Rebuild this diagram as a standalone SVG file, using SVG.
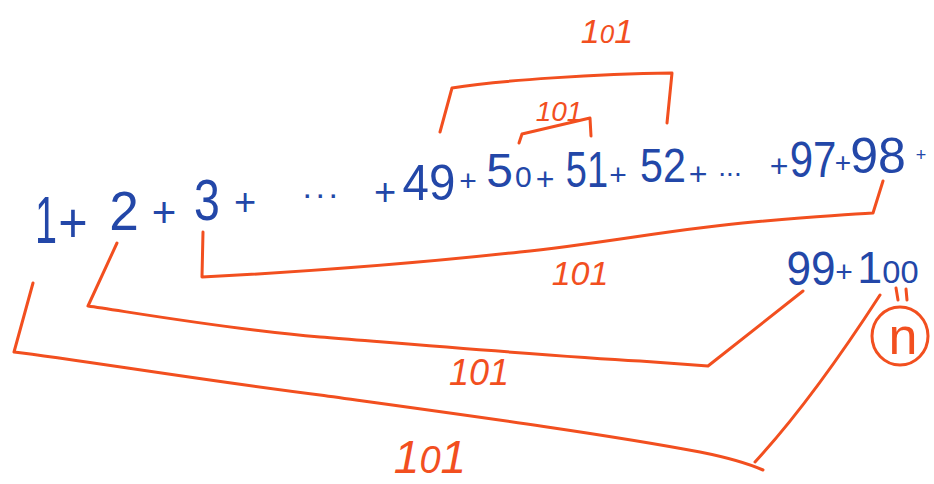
<svg xmlns="http://www.w3.org/2000/svg" width="934" height="484" viewBox="0 0 934 484">
<style>
.blue{fill:#2347a8;font-family:"Liberation Sans",Arial,sans-serif;text-anchor:middle}
.lbl{fill:#f24f1f;font-family:"Liberation Sans",Arial,sans-serif;font-style:italic;text-anchor:middle}
.br{fill:none;stroke:#f24f1f;stroke-width:3;stroke-linecap:round;stroke-linejoin:round}
</style>
<rect width="934" height="484" fill="#ffffff"/>
<g id="sum-row">
<text class="blue" font-size="66" transform="translate(46,243) scale(0.6,1)">1</text>
<text class="blue" font-size="56" transform="translate(73,242) scale(0.9,1)">+</text>
<text class="blue" font-size="56" transform="translate(124,230) scale(0.95,1)">2</text>
<text class="blue" font-size="42" transform="translate(164,227)">+</text>
<text class="blue" font-size="58" transform="translate(207,220) scale(0.8,1)">3</text>
<text class="blue" font-size="38" transform="translate(245,215)">+</text>
<text class="blue" font-size="34" letter-spacing="3.5" transform="translate(322,198)">...</text>
<text class="blue" font-size="38" transform="translate(385,205)">+</text>
<text class="blue" font-size="50" transform="translate(429,200) scale(0.95,1)">49</text>
<text class="blue" font-size="30" transform="translate(468,191)">+</text>
<text class="blue" font-size="48" letter-spacing="2" transform="translate(510,187)">5<tspan font-size="30">0</tspan></text>
<text class="blue" font-size="32" transform="translate(545,190)">+</text>
<text class="blue" font-size="50" transform="translate(587,187) scale(0.76,1)">51</text>
<text class="blue" font-size="30" transform="translate(618,185)">+</text>
<text class="blue" font-size="48" transform="translate(663,182) scale(0.86,1)">52</text>
<text class="blue" font-size="32" transform="translate(698,185)">+</text>
<text class="blue" font-size="28" transform="translate(730,176)">...</text>
<text class="blue" font-size="32" transform="translate(779,177)">+</text>
<text class="blue" font-size="50" transform="translate(813,177) scale(0.84,1)">97</text>
<text class="blue" font-size="28" transform="translate(843,172)">+</text>
<text class="blue" font-size="50" transform="translate(878,173)">98</text>
<text class="blue" font-size="18" transform="translate(921,161)">+</text>
</g>
<g id="tail-row">
<text class="blue" font-size="48" transform="translate(811,285) scale(0.92,1)">99</text>
<text class="blue" font-size="30" transform="translate(844,282)">+</text>
<text class="blue" font-size="44" transform="translate(888,283) scale(1.02,1)">1<tspan font-size="32">00</tspan></text>
</g>
<g id="n-node">
<path class="br" d="M896,288 L898,300 M906,289 L907,300"/>
<ellipse class="br" cx="900" cy="336" rx="28" ry="29"/>
<text x="903" y="354" font-size="52" fill="#f24f1f" font-family="Liberation Sans, Arial, sans-serif" text-anchor="middle">n</text>
</g>
<g id="connectors">
<path class="br" d="M440,132 L452,88 C500,80 600,74 672,73 L667,123"/>
<path class="br" d="M519,143 L522,134 L590,118 L591,136"/>
<path class="br" d="M203,232 L202,277 C300,272 420,263 520,252 C600,244 680,228 753,222 C800,218 850,214 873,213 L883,181"/>
<path class="br" d="M117,243 L88,306 C130,312 233,330 320,337 C420,345 550,356 640,361 L708,366 L803,291"/>
<path class="br" d="M33,283 L14,352 C80,360 200,380 320,395 C450,413 600,433 700,452 Q740,460 763,470"/>
<path class="br" d="M755,462 Q812,400 880,295"/>
</g>
<g id="labels">
<text class="lbl" x="607" y="43" font-size="34">1<tspan font-size="26">0</tspan>1</text>
<text class="lbl" x="559" y="121" font-size="28">101</text>
<text class="lbl" x="580" y="285" font-size="34">101</text>
<text class="lbl" x="479" y="385" font-size="36">101</text>
<text class="lbl" x="430" y="473" font-size="46">1<tspan font-size="38">0</tspan>1</text>
</g>
</svg>
